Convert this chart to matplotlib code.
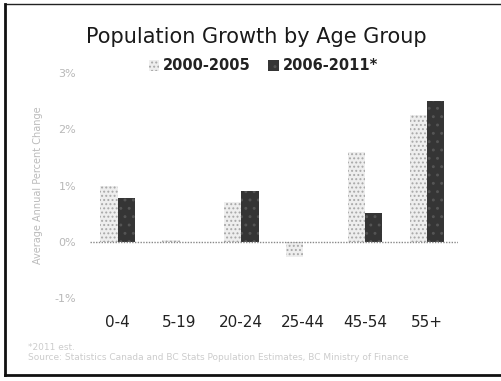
import matplotlib
matplotlib.use("Agg")
import matplotlib.pyplot as plt
import numpy as np
from matplotlib.lines import Line2D

age_groups = ["0-4", "5-19", "20-24", "25-44", "45-54", "55+"]
growth_2000_2005 = [1.0, 0.03, 0.7, -0.27, 1.59, 2.25]
growth_2006_2011 = [0.77, 0.0, 0.91, 0.0, 0.52, 2.5]
series_names = ["2000-2005", "2006-2011*"]
y_ticks = [-1, 0, 1, 2, 3]

plt.rcParams["hatch.linewidth"] = 0.9

fig = plt.figure(figsize=(5.02, 3.81), dpi=100)
ax = fig.add_axes([0.179, 0.218, 0.733, 0.59])

x = np.arange(len(age_groups))
w = 0.28
ax.bar(x - w / 2, growth_2000_2005, w, color="#eeeeee", edgecolor="#a8a8a8",
       hatch="....", linewidth=0, label=series_names[0])
ax.bar(x + w / 2, growth_2006_2011, w, color="#353535", edgecolor="#555555",
       hatch="..", linewidth=0, label=series_names[1])

# dotted zero line
ax.axhline(0, color="#888888", linestyle=(0, (1, 1)), linewidth=1)

ax.set_xlim(-0.45, 5.5)
ax.set_ylim(-1, 3)
ax.set_yticks(y_ticks)
ax.set_yticklabels([f"{t}%" for t in y_ticks], color="#b8b8b8", fontsize=8)
ax.set_xticks(x)
ax.set_xticklabels(age_groups, fontsize=11, color="#222222")
ax.tick_params(axis="x", length=0, pad=12)
ax.tick_params(axis="y", length=0, pad=10)
for s in ax.spines.values():
    s.set_visible(False)
ax.set_ylabel("Average Annual Percent Change", color="#bbbbbb", fontsize=7,
              labelpad=8)

fig.text(0.51, 1 - 37 / 381, "Population Growth by Age Group", ha="center",
         va="center", fontsize=15, color="#1a1a1a")

handles, labels = ax.get_legend_handles_labels()
leg = fig.legend(handles, labels, loc="center", bbox_to_anchor=(0.525, 1 - 66 / 381),
                 ncol=2, frameon=False, handlelength=0.7, handleheight=0.7,
                 handletextpad=0.3, columnspacing=1.2,
                 prop={"size": 10.5, "weight": "bold"})
for t in leg.get_texts():
    t.set_color("#222222")

fig.text(0.056, 1 - 347 / 381, "*2011 est.", fontsize=6.5, color="#cccccc",
         va="center")
fig.text(0.056, 1 - 357 / 381,
         "Source: Statistics Canada and BC Stats Population Estimates, BC Ministry of Finance",
         fontsize=6.5, color="#cccccc", va="center")

# page frame: thin top edge, heavier left and bottom edges
left, bottom, top = 5 / 502, 6 / 381, 1 - 4 / 381
fig.add_artist(Line2D([left, 1.0], [top, top], transform=fig.transFigure,
                      color="#222222", linewidth=1.0))
fig.add_artist(Line2D([left, left], [bottom, top], transform=fig.transFigure,
                      color="#111111", linewidth=2.0))
fig.add_artist(Line2D([left, 1.0], [bottom, bottom], transform=fig.transFigure,
                      color="#111111", linewidth=2.0))

fig.savefig("out.png", dpi=100, facecolor="white")
